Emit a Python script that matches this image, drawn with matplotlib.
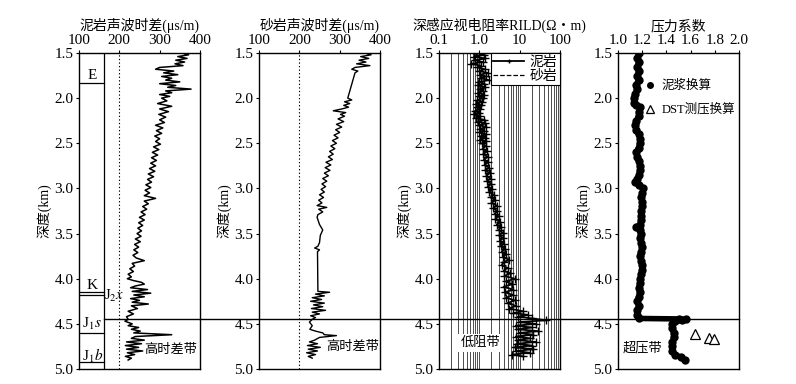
import numpy as np
import matplotlib
matplotlib.use('Agg')
import matplotlib.pyplot as plt
from matplotlib.lines import Line2D
import matplotlib.transforms as mtransforms

plt.rcParams['font.family'] = ['Liberation Serif', 'Noto Sans CJK SC']
plt.rcParams['mathtext.fontset'] = 'stix'
plt.rcParams['font.size'] = 10

# mudstone sonic transit time (us/m)
mud_dt_depth = [1.50, 1.52, 1.54, 1.56, 1.58, 1.60, 1.62, 1.64, 1.66, 1.68, 1.70, 1.72, 1.74, 1.76, 1.78,
                1.80, 1.82, 1.84, 1.86, 1.88, 1.90, 1.92, 1.94, 1.96, 1.98, 2.00, 2.03, 2.06, 2.09, 2.12,
                2.15, 2.18, 2.21, 2.24, 2.27, 2.30, 2.33, 2.36, 2.39, 2.42, 2.45, 2.48, 2.51, 2.54, 2.57,
                2.60, 2.63, 2.66, 2.69, 2.72, 2.75, 2.78, 2.81, 2.84, 2.87, 2.90, 2.93, 2.96, 2.99, 3.02,
                3.05, 3.08, 3.11, 3.14, 3.17, 3.20, 3.23, 3.26, 3.29, 3.32, 3.35, 3.38, 3.41, 3.44, 3.47,
                3.50, 3.53, 3.56, 3.59, 3.62, 3.65, 3.68, 3.71, 3.74, 3.77, 3.80, 3.83, 3.86, 3.89, 3.92,
                3.95, 3.98, 4.00, 4.02, 4.04, 4.06, 4.08, 4.10, 4.12, 4.14, 4.16, 4.18, 4.20, 4.22, 4.24,
                4.26, 4.28, 4.30, 4.33, 4.36, 4.39, 4.42, 4.45, 4.47, 4.50, 4.52, 4.54, 4.56, 4.58, 4.60,
                4.62, 4.64, 4.66, 4.68, 4.70, 4.72, 4.74, 4.76, 4.78, 4.80, 4.82, 4.84, 4.86, 4.88, 4.90]
mud_dt = [355, 372, 345, 368, 340, 362, 338, 358, 300, 290, 335, 310, 345, 305, 330,
          315, 350, 300, 340, 320, 378, 315, 330, 300, 325, 305, 318, 295, 330, 300,
          322, 298, 315, 300, 312, 290, 308, 292, 305, 288, 300, 290, 302, 285, 298,
          282, 295, 280, 292, 278, 290, 275, 288, 272, 285, 270, 280, 266, 278, 264,
          275, 262, 290, 262, 272, 258, 268, 254, 264, 250, 262, 248, 258, 246, 255,
          244, 254, 240, 252, 238, 248, 236, 246, 234, 242, 262, 232, 238, 226, 235,
          222, 230, 220, 235, 255, 262, 240, 228, 270, 232, 278, 236, 262, 228, 250,
          232, 272, 230, 245, 222, 235, 218, 222, 214, 232, 222, 248, 230, 252, 236,
          330, 240, 230, 262, 218, 255, 215, 248, 218, 258, 220, 238, 215, 230, 222]

# sandstone sonic transit time (us/m)
sand_dt_depth = [1.50, 1.52, 1.54, 1.56, 1.58, 1.60, 1.62, 1.64, 1.66, 1.68, 1.70, 1.72, 2.00, 2.02, 2.04,
                 2.06, 2.08, 2.10, 2.12, 2.14, 2.16, 2.18, 2.20, 2.23, 2.26, 2.29, 2.32, 2.35, 2.38, 2.41,
                 2.44, 2.47, 2.50, 2.53, 2.56, 2.59, 2.62, 2.65, 2.68, 2.71, 2.74, 2.77, 2.80, 2.83, 2.86,
                 2.89, 2.92, 2.95, 2.98, 3.01, 3.04, 3.07, 3.10, 3.13, 3.16, 3.19, 3.21, 3.23, 3.26, 3.29,
                 3.32, 3.40, 3.46, 3.52, 3.60, 3.64, 3.66, 3.68, 3.70, 4.14, 4.15, 4.17, 4.19, 4.21, 4.23,
                 4.25, 4.27, 4.29, 4.31, 4.33, 4.35, 4.37, 4.39, 4.41, 4.43, 4.45, 4.48, 4.52, 4.56, 4.58,
                 4.60, 4.62, 4.63, 4.65, 4.68, 4.70, 4.72, 4.74, 4.76, 4.78, 4.80, 4.82, 4.84, 4.86, 4.88]
sand_dt = [362, 378, 352, 372, 348, 365, 342, 375, 338, 330, 345, 338, 320, 330, 312,
           325, 310, 322, 305, 284, 315, 302, 312, 296, 310, 292, 305, 290, 300, 286,
           296, 282, 292, 278, 288, 275, 284, 272, 282, 266, 278, 264, 276, 262, 272,
           258, 268, 256, 265, 254, 262, 250, 260, 248, 256, 244, 268, 248, 258, 246,
           244, 250, 258, 252, 250, 246, 238, 250, 245, 246, 275, 240, 262, 232, 255,
           228, 262, 235, 258, 230, 265, 232, 250, 228, 240, 232, 225, 232, 226, 240,
           258, 262, 292, 250, 238, 225, 245, 220, 252, 222, 245, 218, 240, 222, 232]

# deep induction resistivity RILD (ohm.m)
rild_depth = [1.50, 1.52, 1.54, 1.56, 1.58, 1.60, 1.62, 1.64, 1.66, 1.68, 1.70, 1.72, 1.74, 1.76, 1.78,
              1.80, 1.82, 1.84, 1.86, 1.88, 1.90, 1.92, 1.94, 1.96, 1.98, 2.00, 2.02, 2.04, 2.06, 2.08,
              2.10, 2.12, 2.14, 2.16, 2.18, 2.20, 2.22, 2.24, 2.26, 2.28, 2.30, 2.32, 2.34, 2.36, 2.38,
              2.40, 2.42, 2.44, 2.46, 2.48, 2.50, 2.53, 2.56, 2.59, 2.62, 2.65, 2.68, 2.71, 2.74, 2.77,
              2.80, 2.83, 2.86, 2.89, 2.92, 2.95, 2.98, 3.01, 3.04, 3.07, 3.10, 3.13, 3.16, 3.19, 3.22,
              3.25, 3.28, 3.31, 3.34, 3.37, 3.40, 3.43, 3.46, 3.49, 3.52, 3.55, 3.58, 3.61, 3.64, 3.67,
              3.70, 3.73, 3.76, 3.79, 3.82, 3.85, 3.88, 3.91, 3.94, 3.97, 4.00, 4.03, 4.06, 4.09, 4.12,
              4.15, 4.18, 4.21, 4.24, 4.27, 4.30, 4.33, 4.36, 4.38, 4.40, 4.42, 4.44, 4.46, 4.48, 4.50,
              4.52, 4.54, 4.56, 4.58, 4.60, 4.62, 4.64, 4.66, 4.68, 4.70, 4.72, 4.74, 4.76, 4.78, 4.80,
              4.82, 4.84, 4.86]
rild = [0.85, 1.30, 0.75, 1.40, 0.80, 1.20, 0.62, 1.10, 0.90, 1.35, 1.00, 1.60, 1.05, 1.45, 1.10,
        1.70, 1.00, 1.30, 0.95, 1.40, 1.05, 1.25, 0.95, 1.30, 1.00, 1.20, 0.90, 1.15, 0.85, 1.10,
        0.90, 1.05, 0.80, 1.00, 0.75, 1.05, 0.85, 1.30, 0.95, 1.40, 1.00, 1.50, 1.05, 1.30, 1.00,
        1.45, 1.10, 1.35, 1.05, 1.50, 1.15, 1.45, 1.20, 1.55, 1.25, 1.60, 1.30, 1.65, 1.35, 1.75,
        1.40, 1.80, 1.50, 1.90, 1.55, 2.00, 1.60, 2.10, 1.75, 2.30, 1.90, 2.50, 2.00, 2.70, 2.20,
        2.80, 2.40, 3.00, 2.50, 3.30, 2.70, 3.50, 3.00, 3.80, 3.10, 3.90, 3.20, 4.10, 3.40, 4.30,
        3.60, 4.60, 3.80, 5.50, 4.00, 3.60, 5.00, 4.00, 5.80, 4.20, 7.50, 4.50, 6.50, 4.00, 7.00,
        4.30, 6.80, 4.60, 7.50, 5.00, 8.00, 5.50, 12.0, 7.0, 16.0, 9.0, 20.0, 45.0, 10.0, 25.0,
        8.0, 20.0, 9.0, 28.0, 10.0, 22.0, 8.0, 18.0, 9.0, 25.0, 8.5, 20.0, 7.5, 22.0, 8.0,
        18.0, 6.5, 12.0]
sand_rild_depth = [1.78, 1.82, 1.86]
sand_rild = [1.00, 0.95, 0.90]

# pressure coefficient
pc_depth = [1.50, 1.55, 1.60, 1.65, 1.70, 1.75, 1.80, 1.85, 1.90, 1.95, 2.00, 2.05, 2.08, 2.10, 2.15,
            2.20, 2.25, 2.30, 2.35, 2.40, 2.45, 2.50, 2.55, 2.60, 2.65, 2.70, 2.75, 2.80, 2.85, 2.90,
            2.93, 2.96, 3.00, 3.05, 3.10, 3.15, 3.20, 3.25, 3.30, 3.35, 3.40, 3.43, 3.46, 3.50, 3.55,
            3.60, 3.65, 3.70, 3.75, 3.80, 3.85, 3.90, 3.95, 4.00, 4.05, 4.10, 4.15, 4.20, 4.25, 4.30,
            4.35, 4.40, 4.44, 4.445, 4.45, 4.46, 4.47, 4.50, 4.55, 4.60, 4.65, 4.70, 4.75, 4.80, 4.84,
            4.87, 4.90]
pc_mud = [1.17, 1.16, 1.17, 1.16, 1.17, 1.16, 1.17, 1.15, 1.16, 1.14, 1.13, 1.13, 1.15, 1.18, 1.17,
          1.17, 1.15, 1.14, 1.15, 1.17, 1.18, 1.18, 1.17, 1.15, 1.16, 1.17, 1.18, 1.18, 1.17, 1.16,
          1.14, 1.17, 1.21, 1.20, 1.19, 1.20, 1.20, 1.19, 1.19, 1.19, 1.18, 1.15, 1.18, 1.19, 1.18,
          1.19, 1.20, 1.19, 1.18, 1.19, 1.20, 1.20, 1.19, 1.18, 1.18, 1.17, 1.18, 1.17, 1.16, 1.17,
          1.16, 1.16, 1.17, 1.50, 1.56, 1.53, 1.47, 1.45, 1.45, 1.46, 1.46, 1.45, 1.45, 1.45, 1.47,
          1.52, 1.55]
dst_depth = [4.61, 4.66, 4.67]
pc_dst = [1.64, 1.75, 1.79]

# stratigraphic column
strat_bounds = [1.83, 4.15, 4.18, 4.60, 4.92]
strat_labels = ['E', 'K', r'J$_1$$\it{s}$', r'J$_1$$\it{b}$']
strat_label_depth = [1.75, 4.07, 4.50, 4.85]
overpressure_top = 4.45

fig = plt.figure(figsize=(7.96, 3.84), dpi=100)
bottom, height, width = 0.039, 0.823, 0.152
lefts = [0.0992, 0.3254, 0.5515, 0.7764]
axes = [fig.add_axes([l, bottom, width, height]) for l in lefts]

titles = ['泥岩声波时差(μs/m)', '砂岩声波时差(μs/m)', '深感应视电阻率RILD(Ω・m)', '压力系数']
for ax, t in zip(axes, titles):
    ax.set_ylim(5.0, 1.5)
    ax.set_yticks([1.5, 2.0, 2.5, 3.0, 3.5, 4.0, 4.5, 5.0])
    ax.set_yticklabels(['%.1f' % v for v in ax.get_yticks()])
    ax.xaxis.tick_top()
    ax.tick_params(direction='out', length=2.5, width=0.8, pad=1.5, labelsize=11)
    ax.set_ylabel('深度(km)', fontsize=10, labelpad=2)
    ax.set_title(t, fontsize=10, pad=3)
    for s in ax.spines.values():
        s.set_linewidth(1.0)

# panel 1 - mudstone sonic
ax = axes[0]
ax.set_xlim(100, 400)
ax.set_xticks([100, 200, 300, 400])
ax.axvline(200, color='k', ls=(0, (1.2, 2)), lw=0.8)
ax.plot(mud_dt, mud_dt_depth, color='k', lw=1.1)
col_x = 162
ax.axvline(col_x, color='k', lw=0.9)
for b in strat_bounds:
    ax.plot([100, col_x], [b, b], color='k', lw=0.9)
for lab, d in zip(strat_labels, strat_label_depth):
    ax.text(133, d, lab, ha='center', va='center', fontsize=11)
ax.text(163, 4.19, r'J$_2$$\it{x}$', ha='left', va='center', fontsize=10.5)
ax.text(328, 4.79, '高时差带', ha='center', va='center', fontsize=9.5)

# panel 2 - sandstone sonic
ax = axes[1]
ax.set_xlim(100, 400)
ax.set_xticks([100, 200, 300, 400])
ax.axvline(200, color='k', ls=(0, (1.2, 2)), lw=0.8)
ax.plot(sand_dt, sand_dt_depth, color='k', lw=1.0)
ax.text(333, 4.76, '高时差带', ha='center', va='center', fontsize=9.5)

# panel 3 - resistivity
ax = axes[2]
ax.set_xscale('log')
ax.set_xlim(0.1, 100)
ax.set_xticks([0.1, 1, 10, 100])
ax.set_xticklabels(['0.1', '1.0', '10', '100'])
ax.tick_params(axis='x', which='minor', length=0)
ax.grid(True, which='both', axis='x', color='0.3', lw=0.7)
ax.plot(rild, rild_depth, color='k', lw=1.3, marker='+', ms=6, mew=1.0, label='泥岩')
ax.plot(sand_rild, sand_rild_depth, color='k', lw=0.9, ls='--', label='砂岩')
leg = ax.legend(loc='upper right', borderaxespad=0, fancybox=False, edgecolor='k',
                framealpha=1, fontsize=10, handlelength=2.2, handletextpad=0.4,
                labelspacing=0.05, borderpad=0.2, markerscale=0.6)
leg.get_frame().set_linewidth(0.8)
ax.text(1.06, 4.71, '低阻带', ha='center', va='center', fontsize=9.5,
        bbox=dict(facecolor='white', edgecolor='none', pad=2))

# panel 4 - pressure coefficient
ax = axes[3]
ax.set_xlim(1.0, 2.0)
ax.set_xticks([1.0, 1.2, 1.4, 1.6, 1.8, 2.0])
ax.plot(pc_mud, pc_depth, color='k', lw=4, marker='o', ms=5)
ax.plot(pc_dst, dst_depth, ls='none', marker='^', ms=7, mfc='white', mec='k', mew=0.9)
handles = [Line2D([], [], ls='none', marker='o', ms=4, color='k'),
           Line2D([], [], ls='none', marker='^', ms=6, mfc='white', mec='k', mew=0.9)]
ax.legend(handles, ['泥浆换算', 'DST测压换算'], loc='upper left', bbox_to_anchor=(0.13, 0.95),
          frameon=False, fontsize=9, handlelength=0.8, handletextpad=0.5, labelspacing=0.9)
ax.text(1.20, 4.77, '超压带', ha='center', va='center', fontsize=9.5)

# overpressure top line across all panels
x0 = lefts[0] + (col_x - 100) / 300 * width
x1 = lefts[3] + width
trans = mtransforms.blended_transform_factory(fig.transFigure, axes[0].transData)
fig.add_artist(Line2D([x0, x1], [overpressure_top, overpressure_top], transform=trans,
                      color='k', lw=1.0, clip_on=False))

fig.savefig('out.png', dpi=100)
